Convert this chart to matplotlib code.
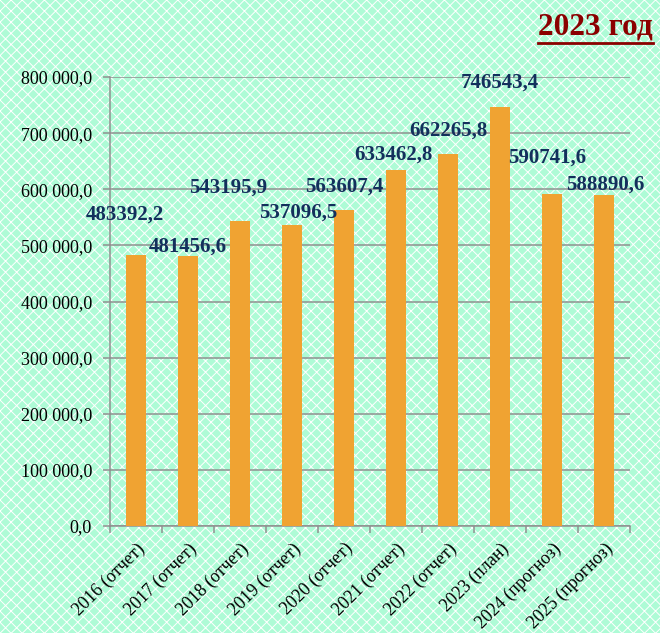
import numpy as np
import matplotlib
matplotlib.use('Agg')
from matplotlib import pyplot as plt
from matplotlib.lines import Line2D

# data
categories = ['2016 (отчет)', '2017 (отчет)', '2018 (отчет)', '2019 (отчет)', '2020 (отчет)',
              '2021 (отчет)', '2022 (отчет)', '2023 (план)', '2024 (прогноз)', '2025 (прогноз)']
values = [483392.2, 481456.6, 543195.9, 537096.5, 563607.4,
          633462.8, 662265.8, 746543.4, 590741.6, 588890.6]
value_labels = ['483392,2', '481456,6', '543195,9', '537096,5', '563607,4',
                '633462,8', '662265,8', '746543,4', '590741,6', '588890,6']
title_text = '2023 год'

# label placement (pixel offsets from bar top)
label_offsets = [(-11, 40), (0, 9), (-12, 34), (6, 12), (0, 23),
                 (-3, 16), (0, 24), (0, 24), (-5, 37), (1, 11)]

plt.rcParams['font.family'] = ['Liberation Serif', 'DejaVu Serif']
plt.rcParams['hatch.color'] = 'white'
plt.rcParams['hatch.linewidth'] = 0.7


def fmt(v):
    s = f'{v:,.1f}'
    return s.replace(',', ' ').replace('.', ',')


fig = plt.figure(figsize=(6.6, 6.33), dpi=100)
fig.patch.set_facecolor('#aefbd6')
fig.patch.set_edgecolor('white')
fig.patch.set_hatch('xxx')

ax = fig.add_axes([110 / 660, 1 - 526 / 633, 520 / 660, 449 / 633])
ax.set_facecolor('none')

x = np.arange(len(values))
ax.bar(x, values, width=0.39, color='#f0a332', zorder=3)

ax.set_xlim(-0.5, len(values) - 0.5)
ax.set_ylim(0, 800000)
yt = np.arange(0, 800001, 100000)
ax.set_yticks(yt)
ax.set_yticklabels([fmt(v) for v in yt], fontsize=13)
ax.yaxis.grid(True, color='#909090', linewidth=1.1, zorder=1)
ax.tick_params(axis='y', length=5, width=1.1, color='#909090', pad=8)

# ticks at boundaries, labels at centres
ax.set_xticks(np.arange(-0.5, len(values)))
ax.set_xticklabels([])
ax.set_xticks(x, minor=True)
ax.set_xticklabels(categories, minor=True, rotation=45, ha='right',
                   rotation_mode='anchor', fontsize=13)
ax.tick_params(axis='x', which='major', length=5, width=1.1, color='#909090')
ax.tick_params(axis='x', which='minor', length=0, pad=10)

for s in ['top', 'right']:
    ax.spines[s].set_visible(False)
for s in ['left', 'bottom']:
    ax.spines[s].set_color('#909090')
    ax.spines[s].set_linewidth(1.1)

for i, v in enumerate(values):
    ax.annotate(value_labels[i], xy=(i, v), xytext=label_offsets[i],
                textcoords='offset pixels', ha='center', va='center',
                fontsize=15, fontweight='bold', color='#132f5c', zorder=5)

t = fig.text(653 / 660, 1 - 35 / 633, title_text, ha='right', va='baseline',
             fontsize=22.5, fontweight='bold', color='#8b0000')
fig.canvas.draw()
bb = t.get_window_extent()
uy = (bb.y0 - 1) / fig.bbox.height
fig.add_artist(Line2D([bb.x0 / fig.bbox.width, bb.x1 / fig.bbox.width], [uy, uy],
                      color='#8b0000', linewidth=2.0))

fig.savefig('out.png', dpi=100, facecolor=fig.get_facecolor())
